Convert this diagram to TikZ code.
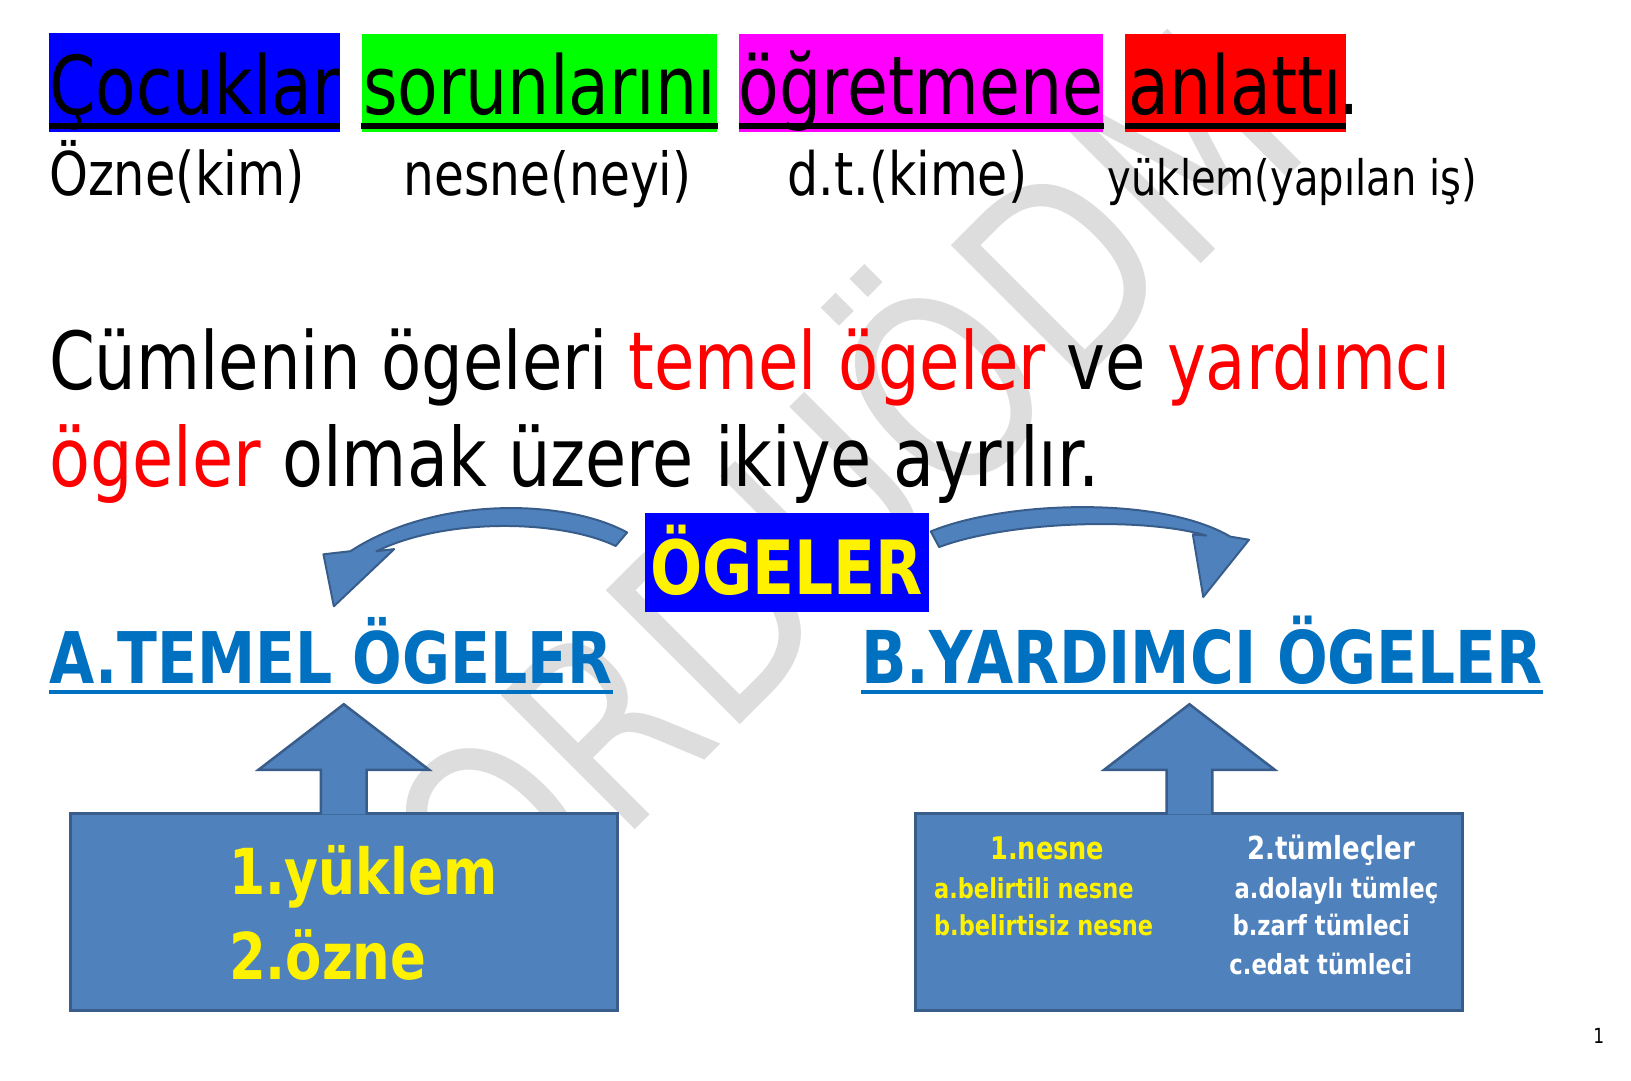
\documentclass[tikz,border=0pt]{standalone}
\usepackage{fontspec}
\setmainfont{DejaVu Sans}[FakeStretch=0.82]
\usetikzlibrary{positioning,calc}
\usepackage{xcolor}

\definecolor{headblue}{HTML}{0070C0}
\definecolor{boxfill}{HTML}{4F81BD}
\definecolor{boxline}{HTML}{385D8A}
\definecolor{wordblue}{HTML}{0000FF}
\definecolor{wordgreen}{HTML}{00FF00}
\definecolor{wordpink}{HTML}{FF00FF}
\definecolor{wordred}{HTML}{FF0000}
\newcommand{\fsz}[1]{\fontsize{#1}{#1}\selectfont}

\begin{document}
\begin{tikzpicture}[x=1pt, y=-1pt, scale=1.04, every node/.style={scale=1.04}]
    \tikzstyle{wordbox} = [rectangle, inner sep=0pt, minimum height=95pt, text height=78pt, text depth=17pt, font=\fsz{78}]
    \tikzstyle{tag} = [inner sep=0pt, anchor=base west]
    \tikzstyle{panel} = [rectangle, fill=boxfill, draw=boxline, line width=3pt, minimum width=526pt, minimum height=189pt, inner sep=0pt, anchor=north west]
    \tikzstyle{blockarrow} = [fill=boxfill, draw=boxline, line width=2.5pt, line join=miter]
    \tikzstyle{curvearrow} = [fill=boxfill, draw=boxline, line width=2pt, line join=round]

    \useasboundingbox[fill=white] (0,0) rectangle (1568.3,1038.5);

    % watermark
    \node[font=\fsz{250}, text=gray!27, rotate=45, inner sep=0pt] (mark) at (795,455) {ORDUÖDM};

    % sentence
    \node[wordbox, fill=wordblue, minimum width=275pt, anchor=north west] (cocuklar) at (47,32) {Çocuklar};
    \node[wordbox, fill=wordgreen, minimum width=342pt, right=21pt of cocuklar] (sorun) {sorunlarını};
    \node[wordbox, fill=wordpink, minimum width=345pt, right=21pt of sorun] (ogretmen) {öğretmene};
    \node[wordbox, fill=wordred, minimum width=212pt, right=21pt of ogretmen] (anlatti) {anlattı};
    \node[tag, font=\fsz{78}] (nokta) at (1287,110) {.};
    \foreach \w in {cocuklar,sorun,ogretmen,anlatti}
        \draw[line width=6pt] ([yshift=6pt]\w.south west) -- ([yshift=6pt]\w.south east);

    \node[tag, font=\fsz{58}] (ozne) at (47,188) {Özne(kim)};
    \node[tag, font=\fsz{57}] (nesne) at (388,188) {nesne(neyi)};
    \node[tag, font=\fsz{57.5}] (dt) at (757,188) {d.t.(kime)};
    \node[tag, font=\fsz{47}] (yuklem) at (1065,188) {yüklem(yapılan iş)};

    \node[tag, font=\fsz{77}] (cumle1) at (47,375) {Cümlenin ögeleri \textcolor{wordred}{temel ögeler} ve \textcolor{wordred}{yardımcı}};
    \node[tag, font=\fsz{78.5}] (cumle2) at (47,468) {\textcolor{wordred}{ögeler} olmak üzere ikiye ayrılır.};

    % ogeler
    \node[rectangle, fill=wordblue, text=yellow, font=\bfseries\fsz{72}, inner sep=0pt, minimum width=273pt, minimum height=95pt, text height=79pt, text depth=16pt] (ogeler) at (756.5,540.5) {ÖGELER};

    \path[curvearrow] (603,512) .. controls (545,480) and (420,476) .. (337,530) -- (311,533) -- (321,583) -- (379,528) -- (362,530) .. controls (430,497) and (540,500) .. (592,525) -- cycle;
    \path[curvearrow] (895,511) .. controls (965,482) and (1115,476) .. (1183,516) -- (1201,519) -- (1157,574) -- (1147,514) -- (1160,515) .. controls (1100,497) and (970,501) .. (903,526) -- cycle;

    \node[tag, text=headblue, font=\bfseries\fsz{68.5}] (temel) at (47,657) {A.TEMEL ÖGELER};
    \node[tag, text=headblue, font=\bfseries\fsz{70}] (yardimci) at (828,657) {B.YARDIMCI ÖGELER};
    \draw[headblue, line width=4pt] ([yshift=-8pt]temel.base west) -- ([yshift=-8pt]temel.base east);
    \draw[headblue, line width=4pt] ([yshift=-8pt]yardimci.base west) -- ([yshift=-8pt]yardimci.base east);

    % boxes
    \node[panel] (temelbox) at (66,781) {};
    \node[panel] (yardbox) at (879,781) {};
    \foreach \b in {temelbox,yardbox}
        \path[blockarrow] (\b.north) ++(-22,2) -- ++(0,-43) -- ++(-60,0) -- ++(82,-63) -- ++(82,63) -- ++(-60,0) -- ++(0,43);

    \node[tag, text=yellow, font=\bfseries\fsz{61}] (madde1) at (220,860) {1.yüklem};
    \node[tag, text=yellow, font=\bfseries\fsz{62}] (madde2) at (220,942) {2.özne};

    \node[text=yellow, font=\bfseries\fsz{30}, anchor=base, inner sep=0pt] (nesnebas) at (1007,826) {1.nesne};
    \node[tag, text=yellow, font=\bfseries\fsz{26.4}] (nesnea) at (898,864) {a.belirtili nesne};
    \node[tag, text=yellow, font=\bfseries\fsz{26.4}] (nesneb) at (898,900) {b.belirtisiz nesne};
    \node[text=white, font=\bfseries\fsz{30.5}, anchor=base, inner sep=0pt] (tumbas) at (1280,826) {2.tümleçler};
    \node[tag, text=white, font=\bfseries\fsz{26.6}] (tuma) at (1187,864) {a.dolaylı tümleç};
    \node[tag, text=white, font=\bfseries\fsz{26.6}] (tumb) at (1185,900) {b.zarf tümleci};
    \node[tag, text=white, font=\bfseries\fsz{26.6}] (tumc) at (1182,937) {c.edat tümleci};

    \node[tag, font=\fsz{20}] (sayfa) at (1532,1003) {1};
\end{tikzpicture}
\end{document}
